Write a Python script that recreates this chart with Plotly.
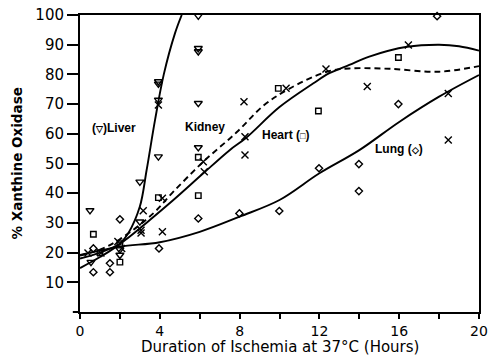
import plotly.graph_objects as go

# ---- scatter data (hours, % xanthine oxidase) ----
liver_x = [0.5, 0.55, 2.0, 2.0, 3.0, 3.0, 3.93, 3.93, 3.93, 3.93, 5.93, 5.93, 5.93, 5.93, 5.93]
liver_y = [34.2, 16.8, 19.2, 21.0, 43.8, 30.4, 52.3, 77.6, 76.8, 71.4, 99.7, 88.8, 87.7, 70.3, 55.4]

kidney_x = [0.4, 1.05, 1.9, 2.09, 3.06, 3.06, 3.17, 4.13, 4.13, 3.93, 6.18, 6.23, 8.22, 8.27, 8.27,
            10.33, 12.33, 14.4, 16.46, 18.46, 18.46]
kidney_y = [19.9, 19.9, 23.7, 21.4, 26.6, 27.5, 34.1, 27.0, 38.3, 69.7, 50.6, 47.2, 70.8, 59.0, 52.9,
            75.3, 81.8, 75.9, 89.9, 73.6, 57.9]

heart_x = [0.67, 1.0, 2.0, 2.0, 3.93, 5.93, 5.93, 9.94, 11.95, 15.96]
heart_y = [26.2, 20.0, 16.8, 23.0, 38.5, 52.1, 39.2, 75.3, 67.7, 85.7]

lung_x = [0.67, 0.67, 1.5, 1.5, 2.0, 3.96, 5.93, 7.99, 9.99, 11.98, 13.98, 13.98, 15.96, 17.9]
lung_y = [21.4, 13.4, 16.4, 13.4, 31.2, 21.4, 31.5, 33.2, 34.0, 48.4, 49.8, 40.7, 70.0, 99.6]

# ---- fitted curves ----
liver_fit_x = [0, 1, 2, 2.42, 3, 3.34, 3.76, 4.2, 4.76, 5.1]
liver_fit_y = [14.8, 18.5, 23, 26.5, 35.5, 47.8, 64.6, 80, 93.8, 100]

solid_fit_x = [0, 1, 2, 3.5, 4.68, 6.18, 7.5, 8.3, 10, 11.7, 12.5, 13.5, 14.5, 16.4, 18, 19, 20]
solid_fit_y = [18, 20, 23, 31, 37.7, 46.7, 54.5, 58.5, 69, 77, 80.4, 83.2, 86, 89.3, 90, 89.5, 88]

dashed_fit_x = [0, 1, 2, 3.67, 4.68, 6.18, 7.85, 9.2, 10.44, 12.37, 13.5, 15.5, 18, 20]
dashed_fit_y = [19, 21, 24.5, 33.2, 40.5, 50.6, 60.5, 69.5, 75, 80.9, 82.0, 81.9, 80.9, 82.8]

lung_fit_x = [0, 2, 4, 6, 8, 10, 12, 14, 16, 18, 20]
lung_fit_y = [19.2, 22, 23.5, 27, 32.1, 37.7, 46.7, 54.5, 64, 72.5, 79.8]

x_ticks = [0, 4, 8, 12, 16, 20]
y_ticks = [10, 20, 30, 40, 50, 60, 70, 80, 90, 100]

fig = go.Figure()

def curve(x, y, dash="solid"):
    fig.add_trace(go.Scatter(x=x, y=y, mode="lines",
                             line=dict(color="black", width=1.9, dash=dash, shape="spline", smoothing=1.0),
                             hoverinfo="skip"))

curve(liver_fit_x, liver_fit_y)
curve(solid_fit_x, solid_fit_y)
curve(dashed_fit_x, dashed_fit_y, dash="6px,4px")
curve(lung_fit_x, lung_fit_y)

def pts(x, y, symbol, size=6):
    fig.add_trace(go.Scatter(x=x, y=y, mode="markers", cliponaxis=False,
                             marker=dict(symbol=symbol, size=size, color="black",
                                         line=dict(color="black", width=1.4))))

pts(liver_x, liver_y, "triangle-down-open", 7)
pts(kidney_x, kidney_y, "x-thin-open", 7)
pts(heart_x, heart_y, "square-open", 5.5)
pts(lung_x, lung_y, "diamond-open", 5.5)

lab = dict(family="Liberation Sans, Arial, sans-serif", size=12, color="black")
small = "<span style='font-size:9px'>%s</span>"
fig.add_annotation(x=1.72, y=62.0, text="<b>(" + small % "▽" + ")Liver</b>", showarrow=False, font=lab)
fig.add_annotation(x=6.27, y=62.3, text="<b>Kidney</b>", showarrow=False, font=lab)
fig.add_annotation(x=10.3, y=59.6, text="<b>Heart (" + small % "□" + ")</b>", showarrow=False, font=lab)
fig.add_annotation(x=16.0, y=54.9, text="<b>Lung (" + small % "◇" + ")</b>", showarrow=False, font=lab)

fig.add_annotation(xref="paper", yref="paper", x=0.5, y=-0.119, yanchor="middle",
                   text="Duration of Ischemia at 37°C (Hours)", showarrow=False,
                   font=dict(family="DejaVu Sans", size=15, color="black"))
fig.add_annotation(xref="paper", yref="paper", x=-0.158, y=0.5, xanchor="center", yanchor="middle",
                   text="<b>% Xanthine Oxidase</b>", textangle=-90, showarrow=False,
                   font=dict(family="DejaVu Sans", size=13.5, color="black"))

# small axis overhangs at the origin corner
fig.add_shape(type="line", xref="paper", yref="paper", x0=0, x1=0, y0=0, y1=-0.022,
              line=dict(color="black", width=2))
fig.add_shape(type="line", xref="paper", yref="paper", x0=-0.018, x1=0, y0=0, y1=0,
              line=dict(color="black", width=2))

fig.update_layout(
    width=491, height=357, autosize=False,
    margin=dict(l=80, r=12, t=15, b=45, pad=0),
    paper_bgcolor="white", plot_bgcolor="white",
    showlegend=False,
    font=dict(family="DejaVu Sans", size=15, color="black"),
)
fig.update_xaxes(range=[0, 20], tickvals=x_ticks, ticks="outside", ticklen=5, tickwidth=1.5,
                 minor=dict(dtick=2, ticks="outside", ticklen=5, tickwidth=1.5, tickcolor="black"),
                 showline=True, linecolor="black", linewidth=2, mirror=True, showgrid=False,
                 zeroline=False, tickcolor="black", tickfont=dict(size=14), automargin=False)
fig.update_yaxes(range=[0, 100], tickvals=y_ticks, ticks="outside", ticklen=11, tickwidth=1.5,
                 showline=True, linecolor="black", linewidth=2, mirror=True, showgrid=False,
                 zeroline=False, tickcolor="black", tickfont=dict(size=15), automargin=False)

fig.write_html("out.html", config={"responsive": False, "displayModeBar": False},
               post_script="document.body.style.margin='0px';document.body.style.overflow='hidden';")
